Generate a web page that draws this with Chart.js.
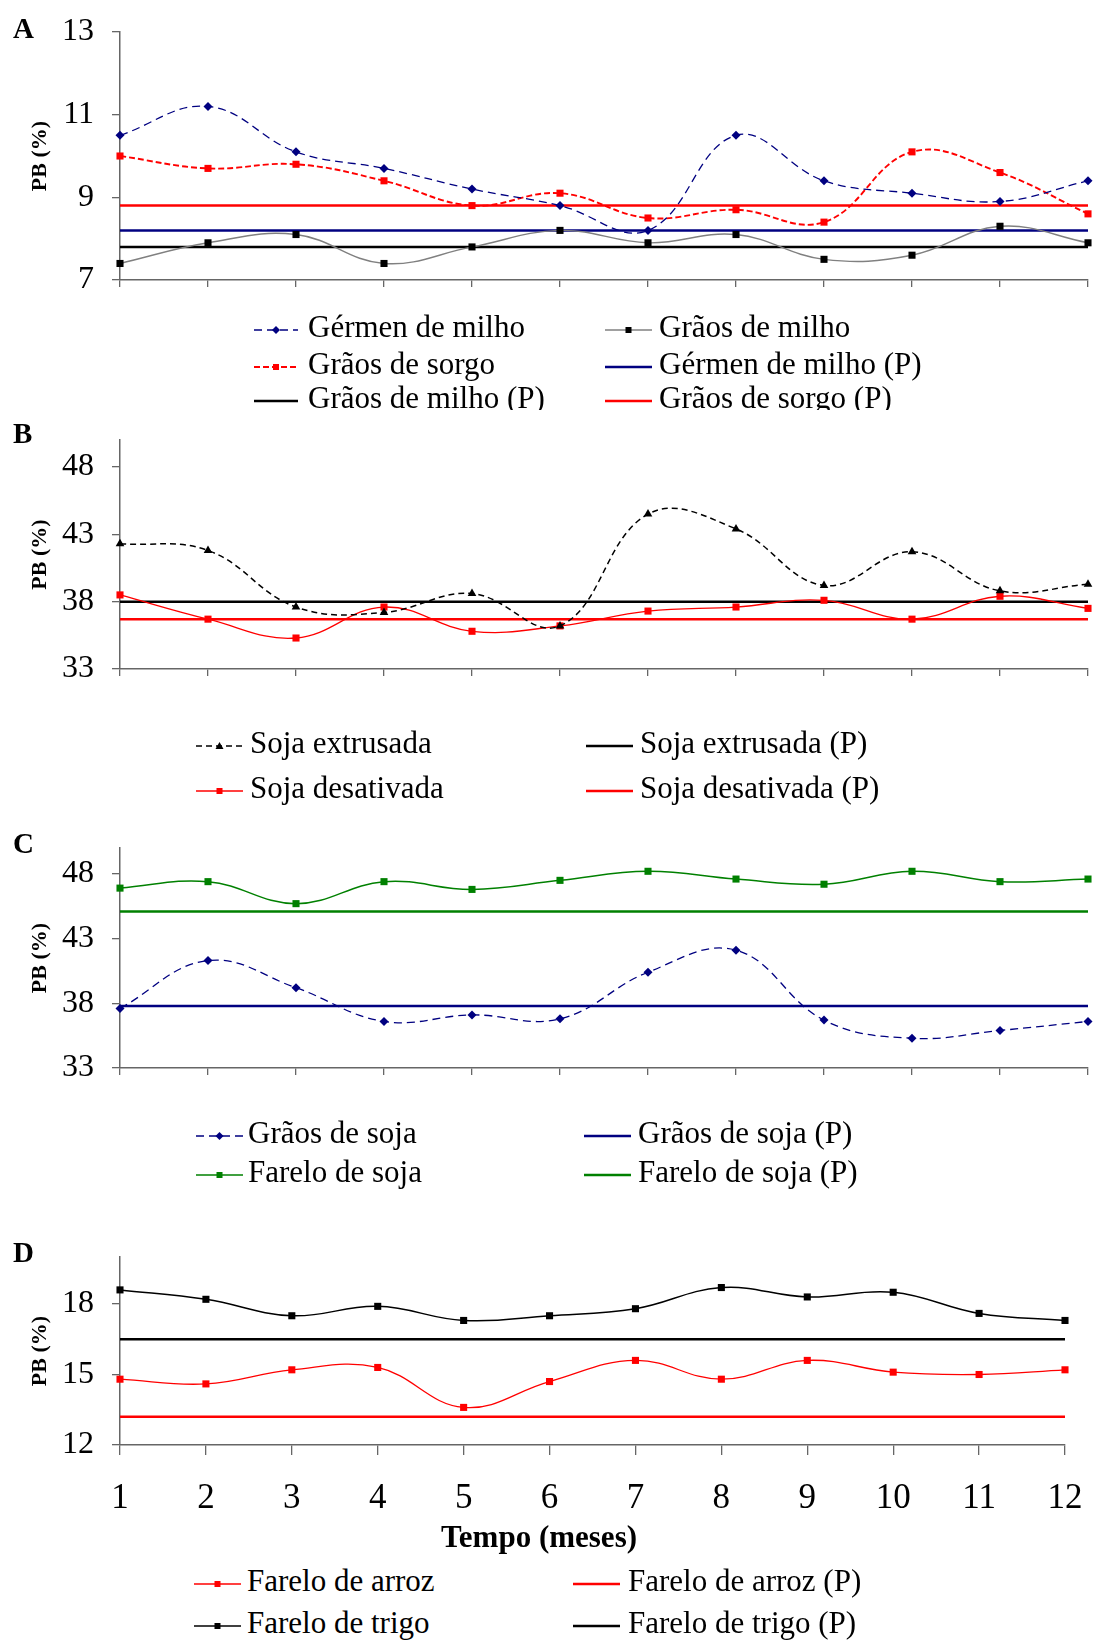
<!DOCTYPE html>
<html>
<head>
<meta charset="utf-8">
<script src="https://cdn.jsdelivr.net/npm/chart.js@4.4.1/dist/chart.umd.min.js"></script>
<style>
  body { margin: 0; background: #fff; }
  #page { position: relative; width: 1093px; height: 1640px; overflow: hidden;
          font-family: 'Liberation Serif', 'Times New Roman', serif; color: #000; }
  canvas { position: absolute; left: 0; }
  .letter { position: absolute; left: 13px; font-weight: bold; font-size: 29px; line-height: 29px; }
  .legend { position: absolute; left: 0; width: 1093px; overflow: hidden; }
  .legend svg { position: absolute; }
  .ltext { position: absolute; font-size: 31px; line-height: 31px; white-space: nowrap; }
  #xtitle { position: absolute; left: 441px; top: 1521px; font-weight: bold; font-size: 31px; line-height: 31px; white-space: nowrap; }
</style>
</head>
<body>
<div id="page">
  <canvas id="chartA" width="1093" height="300" style="top:0px;width:1093px;height:300px"></canvas>
  <canvas id="chartB" width="1093" height="280" style="top:410px;width:1093px;height:280px"></canvas>
  <canvas id="chartC" width="1093" height="270" style="top:820px;width:1093px;height:270px"></canvas>
  <canvas id="chartD" width="1093" height="300" style="top:1230px;width:1093px;height:300px"></canvas>
  <div class="letter" style="top:14px">A</div>
  <div class="letter" style="top:419px">B</div>
  <div class="letter" style="top:829px">C</div>
  <div class="letter" style="top:1238px">D</div>
  <div id="xtitle">Tempo (meses)</div>
</div>
<script>
const months = ['1', '2', '3', '4', '5', '6', '7', '8', '9', '10', '11', '12'];

// A - milho / sorgo
const germenMilho = [10.5, 11.2, 10.1, 9.7, 9.2, 8.8, 8.2, 10.5, 9.4, 9.1, 8.9, 9.4];
const graosSorgo = [10.0, 9.7, 9.8, 9.4, 8.8, 9.1, 8.5, 8.7, 8.4, 10.1, 9.6, 8.6];
const graosMilho = [7.4, 7.9, 8.1, 7.4, 7.8, 8.2, 7.9, 8.1, 7.5, 7.6, 8.3, 7.9];
const germenMilhoP = 8.2;
const graosMilhoP = 7.8;
const graosSorgoP = 8.8;
const ticksA = [7, 9, 11, 13];

// B - soja processada
const sojaExtrusada = [42.3, 41.8, 37.6, 37.2, 38.6, 36.2, 44.5, 43.4, 39.2, 41.7, 38.8, 39.3];
const sojaDesativada = [38.5, 36.7, 35.3, 37.6, 35.8, 36.2, 37.3, 37.6, 38.1, 36.7, 38.4, 37.5];
const sojaExtrusadaP = 38.0;
const sojaDesativadaP = 36.7;
const ticksB = [33, 38, 43, 48];

// C - soja
const graosSoja = [37.6, 41.3, 39.2, 36.6, 37.1, 36.8, 40.4, 42.1, 36.7, 35.3, 35.9, 36.6];
const fareloSoja = [46.9, 47.4, 45.7, 47.4, 46.8, 47.5, 48.2, 47.6, 47.2, 48.2, 47.4, 47.6];
const graosSojaP = 37.8;
const fareloSojaP = 45.1;
const ticksC = [33, 38, 43, 48];

// D - farelos
const fareloArroz = [14.8, 14.6, 15.2, 15.3, 13.6, 14.7, 15.6, 14.8, 15.6, 15.1, 15.0, 15.2];
const fareloTrigo = [18.6, 18.2, 17.5, 17.9, 17.3, 17.5, 17.8, 18.7, 18.3, 18.5, 17.6, 17.3];
const fareloArrozP = 13.2;
const fareloTrigoP = 16.5;
const ticksD = [12, 15, 18];

const serif = 'Liberation Serif';
const axisGray = '#666666';
const NAVY = '#000080', RED = '#FF0000', GREEN = '#008000', BLACK = '#000000', GRAY = '#808080';

// line styles, shared by chart and legend
const dashNavy = { color: NAVY, width: 1.3, dash: [8, 5], marker: 'rectRot', mcolor: NAVY, r: 4.5 };
const dashRed = { color: RED, width: 1.9, dash: [6, 3], marker: 'rect', mcolor: RED, r: 5 };
const grayLine = { color: GRAY, width: 1.4, dash: null, marker: 'rect', mcolor: BLACK, r: 5 };
const dashBlackTri = { color: BLACK, width: 1.5, dash: [6, 4], marker: 'triangle', mcolor: BLACK, r: 5 };
const redLine = { color: RED, width: 1.3, dash: null, marker: 'rect', mcolor: RED, r: 5 };
const greenLine = { color: GREEN, width: 1.5, dash: null, marker: 'rect', mcolor: GREEN, r: 5 };
const blackLine = { color: BLACK, width: 1.5, dash: null, marker: 'rect', mcolor: BLACK, r: 5 };
const pNavy = { color: NAVY, width: 2.5 };
const pRed = { color: RED, width: 2.5 };
const pBlack = { color: BLACK, width: 2.5 };
const pGreen = { color: GREEN, width: 2.5 };

function serie(label, data, s) {
  return {
    label: label, data: data,
    borderColor: s.color, backgroundColor: s.color, borderWidth: s.width,
    borderDash: s.dash || [], tension: 0.4,
    pointStyle: s.marker, pointRadius: s.r, pointBorderWidth: 0,
    pointBackgroundColor: s.mcolor, clip: false, order: 1
  };
}

function refLine(label, value, s) {
  return {
    label: label, data: months.map(() => value),
    borderColor: s.color, borderWidth: s.width, pointRadius: 0,
    tension: 0, clip: false, order: 2
  };
}

function drawPanel(id, datasets, yMin, yMax, yTicks, box) {
  new Chart(document.getElementById(id), {
    type: 'line',
    data: { labels: months, datasets: datasets },
    options: {
      responsive: false,
      animation: false,
      devicePixelRatio: 1,
      layout: { padding: { top: box.top, right: box.right, left: 0, bottom: 0 } },
      plugins: { legend: { display: false }, tooltip: { enabled: false } },
      scales: {
        x: {
          grid: { drawOnChartArea: false, tickLength: box.xTick, color: axisGray, lineWidth: 1.3 },
          border: { color: axisGray, width: 1.5 },
          ticks: { display: box.xLabels, font: { family: serif, size: 35 }, color: '#000',
                   padding: 23, maxRotation: 0, autoSkip: false },
          afterFit: s => { s.height = box.xHeight; s.paddingLeft = 0; s.paddingRight = 0; }
        },
        y: {
          min: yMin, max: yMax,
          grid: { drawOnChartArea: false, tickLength: 8, color: axisGray, lineWidth: 1.3 },
          border: { color: axisGray, width: 1.5 },
          ticks: { font: { family: serif, size: 32 }, color: '#000', padding: 18 },
          afterBuildTicks: s => { s.ticks = yTicks.map(v => ({ value: v })); },
          title: { display: true, text: 'PB (%)', color: '#000',
                   font: { family: serif, size: 22, weight: 'bold' }, padding: { top: 27, bottom: 0 } },
          afterFit: s => { s.width = 120; s.paddingTop = 0; s.paddingBottom = 0; }
        }
      }
    }
  });
}

drawPanel('chartA', [
  serie('Gérmen de milho', germenMilho, dashNavy),
  serie('Grãos de sorgo', graosSorgo, dashRed),
  serie('Grãos de milho', graosMilho, grayLine),
  refLine('Gérmen de milho (P)', germenMilhoP, pNavy),
  refLine('Grãos de milho (P)', graosMilhoP, pBlack),
  refLine('Grãos de sorgo (P)', graosSorgoP, pRed)
], 7, 13, ticksA, { top: 32, right: 5, xHeight: 20, xTick: 7, xLabels: false });

drawPanel('chartB', [
  serie('Soja extrusada', sojaExtrusada, dashBlackTri),
  serie('Soja desativada', sojaDesativada, redLine),
  refLine('Soja extrusada (P)', sojaExtrusadaP, pBlack),
  refLine('Soja desativada (P)', sojaDesativadaP, pRed)
], 33, 50, ticksB, { top: 30, right: 2, xHeight: 21, xTick: 7, xLabels: false });

drawPanel('chartC', [
  serie('Grãos de soja', graosSoja, dashNavy),
  serie('Farelo de soja', fareloSoja, greenLine),
  refLine('Grãos de soja (P)', graosSojaP, pNavy),
  refLine('Farelo de soja (P)', fareloSojaP, pGreen)
], 33, 50, ticksC, { top: 28, right: 2, xHeight: 22, xTick: 7, xLabels: false });

drawPanel('chartD', [
  serie('Farelo de arroz', fareloArroz, redLine),
  serie('Farelo de trigo', fareloTrigo, blackLine),
  refLine('Farelo de arroz (P)', fareloArrozP, pRed),
  refLine('Farelo de trigo (P)', fareloTrigoP, pBlack)
], 12, 20, ticksD, { top: 27, right: 28, xHeight: 85, xTick: 10, xLabels: true });

// legends (HTML, laid out like the original Excel boxes)
function sampleSvg(s, w) {
  const dash = s.dash ? ' stroke-dasharray="' + s.dash.join(' ') + '"' : '';
  let m = '';
  const cx = w / 2, cy = 10;
  if (s.marker === 'rectRot') {
    const r = 4;
    m = '<polygon points="' + cx + ',' + (cy - r) + ' ' + (cx + r) + ',' + cy + ' ' + cx + ',' + (cy + r) + ' ' + (cx - r) + ',' + cy + '" fill="' + s.mcolor + '"/>';
  } else if (s.marker === 'rect') {
    m = '<rect x="' + (cx - 3) + '" y="' + (cy - 3) + '" width="6" height="6" fill="' + s.mcolor + '"/>';
  } else if (s.marker === 'triangle') {
    m = '<polygon points="' + cx + ',' + (cy - 4) + ' ' + (cx + 4) + ',' + (cy + 3) + ' ' + (cx - 4) + ',' + (cy + 3) + '" fill="' + s.mcolor + '"/>';
  }
  return '<svg width="' + w + '" height="20" viewBox="0 0 ' + w + ' 20">' +
    '<line x1="0" y1="10" x2="' + w + '" y2="10" stroke="' + s.color + '" stroke-width="' + s.width + '"' + dash + '/>' +
    m + '</svg>';
}

function buildLegend(boxTop, boxHeight, cols, rows, items) {
  const box = document.createElement('div');
  box.className = 'legend';
  box.style.top = boxTop + 'px';
  box.style.height = boxHeight + 'px';
  let html = '';
  items.forEach(it => {
    const c = cols[it[2]];
    const y = rows[it[3]] - boxTop;
    html += '<div style="position:absolute;left:' + c.lineX + 'px;top:' + (y - 10) + 'px">' + sampleSvg(it[1], c.lineW) + '</div>';
    html += '<span class="ltext" style="left:' + c.textX + 'px;top:' + (y - 19) + 'px">' + it[0] + '</span>';
  });
  box.innerHTML = html;
  document.getElementById('page').appendChild(box);
}

buildLegend(300, 110,
  [{ lineX: 254, lineW: 44, textX: 308 }, { lineX: 605, lineW: 47, textX: 659 }],
  [330, 367, 401],
  [
    ['Gérmen de milho', dashNavy, 0, 0], ['Grãos de milho', grayLine, 1, 0],
    ['Grãos de sorgo', dashRed, 0, 1], ['Gérmen de milho (P)', pNavy, 1, 1],
    ['Grãos de milho (P)', pBlack, 0, 2], ['Grãos de sorgo (P)', pRed, 1, 2]
  ]);

buildLegend(700, 115,
  [{ lineX: 196, lineW: 47, textX: 250 }, { lineX: 586, lineW: 47, textX: 640 }],
  [746, 791],
  [
    ['Soja extrusada', dashBlackTri, 0, 0], ['Soja extrusada (P)', pBlack, 1, 0],
    ['Soja desativada', redLine, 0, 1], ['Soja desativada (P)', pRed, 1, 1]
  ]);

buildLegend(1100, 120,
  [{ lineX: 196, lineW: 47, textX: 248 }, { lineX: 584, lineW: 47, textX: 638 }],
  [1136, 1175],
  [
    ['Grãos de soja', dashNavy, 0, 0], ['Grãos de soja (P)', pNavy, 1, 0],
    ['Farelo de soja', greenLine, 0, 1], ['Farelo de soja (P)', pGreen, 1, 1]
  ]);

buildLegend(1560, 80,
  [{ lineX: 194, lineW: 47, textX: 247 }, { lineX: 573, lineW: 47, textX: 628 }],
  [1584, 1626],
  [
    ['Farelo de arroz', redLine, 0, 0], ['Farelo de arroz (P)', pRed, 1, 0],
    ['Farelo de trigo', blackLine, 0, 1], ['Farelo de trigo (P)', pBlack, 1, 1]
  ]);
</script>
</body>
</html>
